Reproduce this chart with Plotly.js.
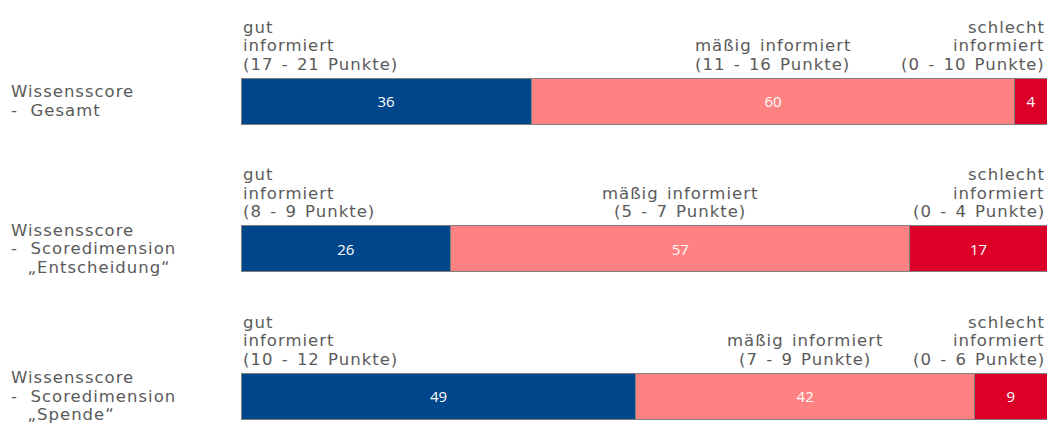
<!DOCTYPE html>
<html>
<head>
<meta charset="utf-8">
<script src="https://cdn.plot.ly/plotly-3.0.1.min.js"></script>
<style>
html,body{margin:0;padding:0;background:#fff;}
#chart{width:1049px;height:423px;}
.annotation-text{letter-spacing:1px;word-spacing:2px;}
</style>
</head>
<body>
<div id="chart"></div>
<script>
// Data
const rowIds = ['gesamt', 'entscheidung', 'spende'];
const rowLabelLines = [
  ['Wissensscore', '-\u00A0\u2009Gesamt'],
  ['Wissensscore', '-\u00A0\u2009Scoredimension', '\u00A0\u00A0\u201EEntscheidung\u201C'],
  ['Wissensscore', '-\u00A0\u2009Scoredimension', '\u00A0\u00A0\u201ESpende\u201C']
];
const gutValues = [36, 26, 49];
const maessigValues = [60, 57, 42];
const schlechtValues = [4, 17, 9];
const gutLabelLines = [
  ['gut', 'informiert', '(17 - 21 Punkte)'],
  ['gut', 'informiert', '(8 - 9 Punkte)'],
  ['gut', 'informiert', '(10 - 12 Punkte)']
];
const maessigLabelLines = [
  ['mäßig informiert', '(11 - 16 Punkte)'],
  ['mäßig informiert', '(5 - 7 Punkte)'],
  ['mäßig informiert', '(7 - 9 Punkte)']
];
const schlechtLabelLines = [
  ['schlecht', 'informiert', '(0 - 10 Punkte)'],
  ['schlecht', 'informiert', '(0 - 4 Punkte)'],
  ['schlecht', 'informiert', '(0 - 6 Punkte)']
];

// Styles
const colors = {gut: '#00468A', maessig: '#FF8282', schlecht: '#DC0028'};
const textColor = '#5a5a5a';
const annFont = {family: 'DejaVu Sans, Verdana, sans-serif', size: 16.5, color: textColor};
const barFont = {family: 'Open Sans, sans-serif', size: 15, color: '#ffffff'};
const pitch = 18.5;
const aboveBase = 37;

function barTrace(name, values, color) {
  return {
    type: 'bar', orientation: 'h', name: name,
    x: values, y: rowIds,
    width: 0.312,
    marker: {color: color, line: {color: '#808080', width: 1}},
    text: values.map(String), textposition: 'inside', insidetextanchor: 'middle',
    textangle: 0, constraintext: 'none',
    textfont: barFont, insidetextfont: barFont,
    hoverinfo: 'skip', showlegend: false
  };
}

const traces = [
  barTrace('gut', gutValues, colors.gut),
  barTrace('mäßig', maessigValues, colors.maessig),
  barTrace('schlecht', schlechtValues, colors.schlecht)
];

const annotations = [];
function addStack(lines, x, y, xanchor) {
  const n = lines.length;
  lines.forEach((t, i) => {
    annotations.push({
      text: t, x: x, y: y, xref: 'x', yref: 'y',
      xanchor: xanchor, yanchor: 'middle', align: xanchor === 'center' ? 'center' : xanchor,
      yshift: aboveBase + (n - 1 - i) * pitch,
      showarrow: false, font: annFont
    });
  });
}
rowIds.forEach((id, r) => {
  addStack(gutLabelLines[r], 0, id, 'left');
  addStack(maessigLabelLines[r], gutValues[r] + maessigValues[r] / 2, id, 'center');
  addStack(schlechtLabelLines[r], gutValues[r] + maessigValues[r] + schlechtValues[r], id, 'right');
  const lines = rowLabelLines[r];
  const n = lines.length;
  lines.forEach((t, i) => {
    annotations.push({
      text: t, x: -0.2878, y: id, xref: 'paper', yref: 'y',
      xanchor: 'left', yanchor: 'middle', align: 'left',
      yshift: ((n - 1) / 2 - i) * pitch,
      showarrow: false, font: annFont
    });
  });
});

const layout = {
  width: 1049, height: 423,
  margin: {l: 241, r: 2, t: 0, b: 0, pad: 0},
  barmode: 'stack',
  paper_bgcolor: '#ffffff', plot_bgcolor: '#ffffff',
  xaxis: {range: [0, 100], visible: false, fixedrange: true},
  yaxis: {type: 'category', range: [2.183, -0.685], visible: false, fixedrange: true},
  annotations: annotations,
  showlegend: false
};

Plotly.newPlot('chart', traces, layout, {displayModeBar: false, staticPlot: true});
</script>
</body>
</html>
